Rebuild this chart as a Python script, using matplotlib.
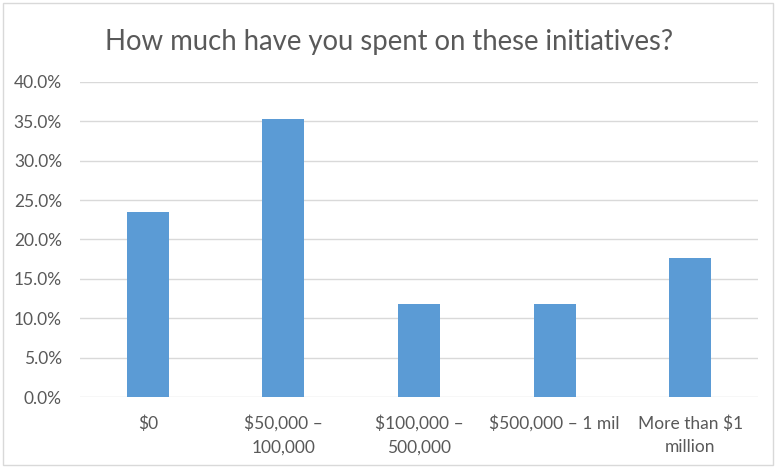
import matplotlib.pyplot as plt
from matplotlib.ticker import FuncFormatter
from matplotlib.patches import Rectangle

categories = ['$0', '$50,000 –\n100,000', '$100,000 –\n500,000', '$500,000 – 1 mil', 'More than $1\nmillion']
values = [23.5, 35.3, 11.8, 11.8, 17.6]
yticks = [0, 5, 10, 15, 20, 25, 30, 35, 40]

plt.rcParams['font.family'] = ['Lato', 'DejaVu Sans']
text_color = '#595959'

fig = plt.figure(figsize=(7.78, 4.68), dpi=100)
ax = fig.add_axes([80 / 778, 1 - 397 / 468, (758 - 80) / 778, (397 - 82) / 468])

ax.bar(range(len(values)), values, width=0.31, color='#5B9BD5', zorder=3)
ax.set_xlim(-0.5, len(values) - 0.5)
ax.set_ylim(0, 40)
ax.set_yticks(yticks)
ax.yaxis.set_major_formatter(FuncFormatter(lambda v, p: f'{v:.1f}%'))
ax.grid(axis='y', color='#D9D9D9', linewidth=1, zorder=0)
for s in ax.spines.values():
    s.set_visible(False)
ax.tick_params(axis='both', length=0, colors=text_color, labelsize=12.5)
ax.tick_params(axis='y', pad=13)
ax.tick_params(axis='x', pad=13)
ax.set_xticks(range(len(categories)))
ax.set_xticklabels(categories, linespacing=1.6)

fig.text(0.5, 1 - 42 / 468, 'How much have you spent on these initiatives?',
         ha='center', va='center', fontsize=19.8, color=text_color)

# chart border
fig.patches.append(Rectangle((3 / 778, 3 / 468), 770 / 778, 462 / 468, transform=fig.transFigure,
                             fill=False, edgecolor='#D9D9D9', linewidth=1))

fig.savefig('out.png', dpi=100)
